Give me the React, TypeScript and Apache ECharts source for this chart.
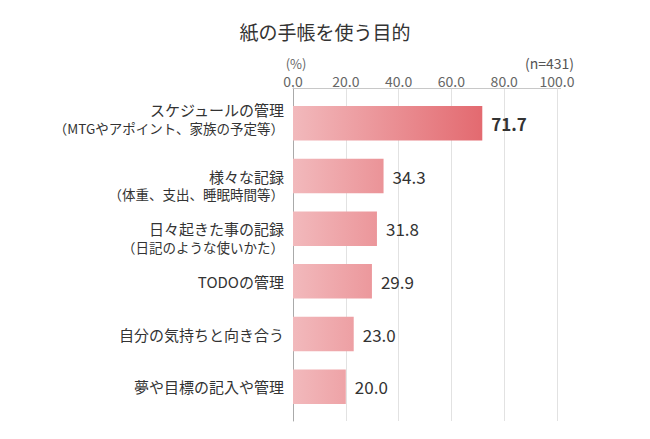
import React, { useEffect, useRef } from "react";
import * as echarts from "echarts";

const mainLabels = [
  "スケジュールの管理",
  "様々な記録",
  "日々起きた事の記録",
  "TODOの管理",
  "自分の気持ちと向き合う",
  "夢や目標の記入や管理",
];
const subLabels = [
  "（MTGやアポイント、家族の予定等）",
  "（体重、支出、睡眠時間等）",
  "（日記のような使いかた）",
  "",
  "",
  "",
];
const values = [71.7, 34.3, 31.8, 29.9, 23.0, 20.0];
const tickValues = [0, 20, 40, 60, 80, 100];

const FONT = "'Noto Sans CJK JP', 'Noto Sans', sans-serif";

export default function App() {
  const ref = useRef<HTMLDivElement>(null);
  useEffect(() => {
    if (!ref.current) return;
    const chart = echarts.init(ref.current, null, { renderer: "svg" });
    const gradient = new echarts.graphic.LinearGradient(
      293, 0, 482, 0,
      [
        { offset: 0, color: "#f2b9bc" },
        { offset: 1, color: "#e36a70" },
      ],
      true
    );
    const catKeys = mainLabels.map((_, i) => "c" + i);
    chart.setOption({
      animation: false,
      textStyle: { fontFamily: FONT },
      title: {
        text: "紙の手帳を使う目的",
        left: "center",
        top: 17,
        textStyle: { fontSize: 19, fontWeight: "normal", color: "#333", fontFamily: FONT },
      },
      graphic: [
        {
          type: "text",
          x: 296,
          y: 63,
          style: { text: "(%)", fontSize: 13, fill: "#666", align: "center", verticalAlign: "middle", fontFamily: FONT },
        },
        {
          type: "text",
          x: 574,
          y: 63,
          style: { text: "(n=431)", fontSize: 14, fill: "#555", align: "right", verticalAlign: "middle", fontFamily: FONT },
        },
        {
          type: "line",
          shape: { x1: 557, y1: 88.5, x2: 561, y2: 88.5 },
          style: { stroke: "#c8c8c8", lineWidth: 1 },
        },
      ],
      grid: [
        { left: 293, right: 93, top: 88, bottom: 18 },
        { left: 293, right: 93, top: 97, bottom: 26 },
      ],
      xAxis: [
        {
          gridIndex: 0,
          type: "value",
          position: "top",
          min: tickValues[0],
          max: tickValues[tickValues.length - 1],
          interval: 20,
          axisLine: { show: true, lineStyle: { color: "#c8c8c8", width: 1 } },
          axisTick: { show: false },
          splitLine: { show: true, lineStyle: { color: "#e2e2e2", width: 1 } },
          axisLabel: {
            margin: 0,
            fontSize: 14,
            color: "#666",
            fontFamily: FONT,
            formatter: (v: number) => v.toFixed(1),
          },
        },
        {
          gridIndex: 1,
          type: "value",
          min: 0,
          max: 100,
          show: false,
        },
      ],
      yAxis: [
        {
          gridIndex: 0,
          type: "category",
          data: ["a"],
          axisLine: { show: true, lineStyle: { color: "#aaa", width: 1 } },
          axisTick: { show: false },
          axisLabel: { show: false },
          splitLine: { show: false },
        },
        {
          gridIndex: 1,
          type: "category",
          inverse: true,
          data: catKeys,
          axisLine: { show: false },
          axisTick: { show: false },
          axisLabel: {
            margin: 9,
            formatter: (_v: string, idx: number) => {
              const m = mainLabels[idx];
              const s = subLabels[idx];
              if (!s) return `{a|${m}}`;
              if (idx === 0) return `{a|${m}}\n{b|${s}}\n{h| }`;
              return `{s| }\n{a|${m}}\n{b|${s}}`;
            },
            rich: {
              a: { fontSize: 15, color: "#333", lineHeight: 18, fontFamily: FONT, align: "right" },
              b: { fontSize: 13.5, color: "#333", lineHeight: 18, fontFamily: FONT, align: "right" },
              s: { fontSize: 10, lineHeight: 18 },
              h: { fontSize: 8, lineHeight: 9 },
            },
          },
        },
      ],
      series: [
        {
          type: "bar",
          xAxisIndex: 1,
          yAxisIndex: 1,
          data: values.map((v, i) => ({
            value: v,
            label: i === 0 ? { fontWeight: "bold" } : undefined,
          })),
          barWidth: 34.5,
          itemStyle: { color: gradient },
          label: {
            show: true,
            position: "right",
            distance: 9,
            fontSize: 17,
            color: "#333",
            fontFamily: FONT,
            formatter: (p: any) => Number(p.value).toFixed(1),
          },
        },
      ],
    });
    return () => chart.dispose();
  }, []);
  return (
    <div
      ref={ref}
      style={{ position: "fixed", left: 0, top: 0, width: 650, height: 439, background: "#fff" }}
    />
  );
}
